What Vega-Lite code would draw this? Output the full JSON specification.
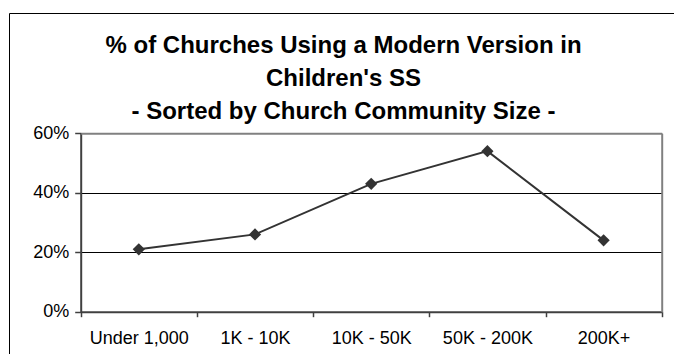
{
  "$schema": "https://vega.github.io/schema/vega-lite/v6.json",
  "width": 665,
  "height": 341,
  "autosize": {"type": "none"},
  "padding": {"left": 9, "top": 13, "right": 0, "bottom": 0},
  "background": "#ffffff",
  "title": {
    "text": ["% of Churches Using a Modern Version in", "Children's SS", "- Sorted by Church Community Size -"],
    "anchor": "middle",
    "frame": "group",
    "orient": "top",
    "offset": -111,
    "dx": 2,
    "font": "Liberation Sans",
    "fontSize": 24,
    "fontWeight": "bold",
    "lineHeight": 33,
    "color": "#000000"
  },
  "data": {
    "values": [
      {"size": "Under 1,000", "share": 0.21},
      {"size": "1K - 10K", "share": 0.26},
      {"size": "10K - 50K", "share": 0.43},
      {"size": "50K - 200K", "share": 0.54},
      {"size": "200K+", "share": 0.24}
    ]
  },
  "encoding": {
    "x": {
      "field": "size",
      "type": "nominal",
      "sort": null,
      "title": null,
      "scale": {"type": "band", "range": [71.7, 652.7], "paddingInner": 0, "paddingOuter": 0}
    },
    "y": {
      "field": "share",
      "type": "quantitative",
      "title": null,
      "scale": {"domain": [0, 0.6], "nice": false, "zero": true, "range": [298.7, 120.3]}
    }
  },
  "layer": [
    {
      "mark": {"type": "line", "color": "#333333", "strokeWidth": 2},
      "encoding": {
        "x": {
          "field": "size",
          "type": "nominal",
          "sort": null,
          "axis": {
            "orient": "bottom",
            "offset": -42.3,
            "domainColor": "#404040",
            "domainWidth": 2,
            "tickBand": "extent",
            "tickExtra": true,
            "tickColor": "#404040",
            "tickWidth": 1.5,
            "tickSize": 5,
            "labelAngle": 0,
            "labelFont": "Liberation Sans",
            "labelFontSize": 18,
            "labelColor": "#000000",
            "labelPadding": 13,
            "grid": false
          }
        },
        "y": {
          "field": "share",
          "type": "quantitative",
          "axis": {
            "orient": "left",
            "offset": -71.7,
            "values": [0, 0.2, 0.4, 0.6],
            "format": ".0%",
            "domainColor": "#404040",
            "domainWidth": 2,
            "tickColor": "#404040",
            "tickWidth": 1.5,
            "tickSize": 6,
            "labelFont": "Liberation Sans",
            "labelFontSize": 18,
            "labelColor": "#000000",
            "labelPadding": 6,
            "grid": true,
            "gridColor": "#000000",
            "gridWidth": 1
          }
        }
      }
    },
    {
      "mark": {"type": "point", "shape": "diamond", "filled": true, "color": "#333333", "opacity": 1, "size": 150},
      "encoding": {
        "x": {"field": "size", "type": "nominal", "sort": null, "axis": null},
        "y": {"field": "share", "type": "quantitative", "axis": null}
      }
    },
    {
      "mark": {"type": "point", "opacity": 0},
      "encoding": {
        "x": {
          "field": "size",
          "type": "nominal",
          "sort": null,
          "axis": {
            "orient": "top",
            "offset": -120.3,
            "domainColor": "#808080",
            "domainWidth": 2,
            "ticks": false,
            "labels": false,
            "grid": false,
            "zindex": 2
          }
        },
        "y": {
          "field": "share",
          "type": "quantitative",
          "axis": {
            "orient": "right",
            "offset": -12.3,
            "domainColor": "#808080",
            "domainWidth": 2,
            "ticks": false,
            "labels": false,
            "grid": false,
            "zindex": 2
          }
        }
      }
    }
  ],
  "resolve": {"axis": {"x": "independent", "y": "independent"}},
  "config": {
    "font": "Liberation Sans",
    "view": {"stroke": "#000000", "strokeWidth": 1}
  }
}
